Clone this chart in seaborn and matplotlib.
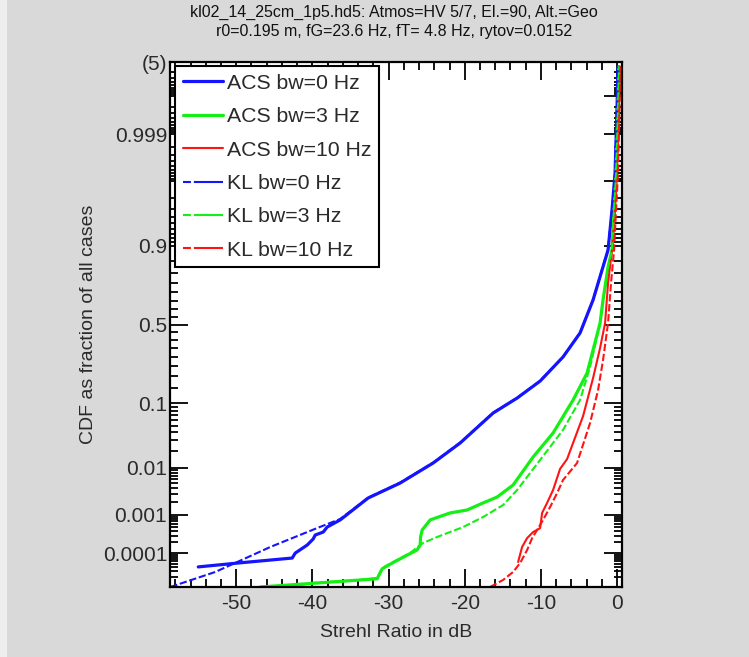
import math
from statistics import NormalDist

import numpy as np
import matplotlib
matplotlib.use("Agg")
import matplotlib.pyplot as plt
from matplotlib.lines import Line2D
from matplotlib.patches import Rectangle
from matplotlib.ticker import FixedLocator, FixedFormatter
import seaborn as sns

# ---- data: Strehl ratio (dB) vs cumulative fraction of cases ----
acs_bw0_db = [-54.99, -49.87, -42.65, -42.26, -40.68, -39.90, -39.63, -38.58, -38.06,
              -36.35, -32.68, -28.48, -24.15, -20.60, -16.27, -13.12, -10.10, -7.09,
              -4.86, -3.15, -1.97, -1.18, -0.66, -0.26, 0.0, 0.13]
acs_bw0_cdf = [4.1e-5, 5.3e-5, 7.4e-5, 1.02e-4, 1.7e-4, 2.46e-4, 3.13e-4, 3.73e-4, 5.0e-4,
               7.5e-4, 2.41e-3, 5.0e-3, 0.0122, 0.0271, 0.0752, 0.116, 0.179, 0.299,
               0.445, 0.655, 0.812, 0.887, 0.9686, 0.99307, 0.9998, 0.999986]

kl_bw0_db = [-58.66, -52.76, -49.87, -45.54, -39.37, -38.06, -36.35, -32.68, -28.48,
             -24.15, -20.60, -16.27, -13.12, -10.10, -7.09, -4.86, -3.15, -1.97, -1.18,
             -0.66, -0.26, 0.0, 0.13]
kl_bw0_cdf = [1.0e-5, 2.9e-5, 5.7e-5, 1.5e-4, 4.72e-4, 5.9e-4, 7.9e-4, 2.45e-3, 5.1e-3,
              0.0124, 0.0275, 0.0760, 0.117, 0.180, 0.300, 0.446, 0.656, 0.813, 0.888,
              0.9688, 0.99310, 0.9998, 0.999986]

acs_bw3_db = [-46.85, -31.50, -30.84, -29.40, -26.25, -25.85, -25.80, -25.59, -24.54,
              -21.92, -19.69, -17.59, -15.75, -13.65, -11.02, -8.40, -5.77, -3.94,
              -3.15, -2.23, -1.84, -1.18, -0.66, -0.39, -0.13, 0.13, 0.26]
acs_bw3_cdf = [1.0e-5, 1.8e-5, 3.6e-5, 5.5e-5, 1.25e-4, 1.7e-4, 2.78e-4, 4.2e-4, 7.5e-4,
               1.10e-3, 1.29e-3, 1.87e-3, 2.53e-3, 4.55e-3, 0.01567, 0.0390, 0.110, 0.215,
               0.339, 0.510, 0.655, 0.825, 0.887, 0.969, 0.993, 0.9998, 0.999986]

kl_bw3_db = [-46.85, -41.60, -39.90, -33.73, -31.50, -30.84, -29.40, -27.17, -25.85,
             -25.46, -23.62, -20.21, -17.59, -14.96, -13.12, -10.10, -7.09, -4.86,
             -3.54, -2.23, -1.84, -1.18, -0.66, -0.39, -0.13, 0.13, 0.26]
kl_bw3_cdf = [1.0e-5, 1.16e-5, 1.34e-5, 1.66e-5, 1.91e-5, 3.8e-5, 5.7e-5, 1.03e-4, 1.70e-4,
              1.93e-4, 2.78e-4, 5.0e-4, 8.8e-4, 1.68e-3, 3.58e-3, 0.01387, 0.0434, 0.110,
              0.245, 0.505, 0.652, 0.823, 0.886, 0.969, 0.993, 0.9998, 0.999986]

acs_bw10_db = [-12.99, -12.47, -11.81, -11.02, -10.10, -9.84, -9.19, -8.40, -7.48, -6.56,
               -4.46, -3.15, -2.23, -1.57, -1.18, -0.66, -0.26, 0.0, 0.26, 0.39]
acs_bw10_cdf = [5.7e-5, 1.5e-4, 2.6e-4, 3.73e-4, 4.7e-4, 1.10e-3, 1.87e-3, 3.58e-3, 9.5e-3,
                0.0144, 0.0684, 0.192, 0.351, 0.51, 0.75, 0.887, 0.969, 0.993, 0.9998,
                0.999986]

kl_bw10_db = [-16.67, -14.96, -13.65, -12.73, -11.81, -11.15, -10.50, -9.71, -8.79, -7.87,
              -7.09, -5.25, -3.54, -2.49, -1.84, -1.18, -0.79, -0.39, -0.13, 0.13, 0.33,
              0.46]
kl_bw10_cdf = [1.0e-5, 1.66e-5, 2.9e-5, 5.3e-5, 1.24e-4, 2.6e-4, 4.2e-4, 7.5e-4, 1.51e-3,
               3.09e-3, 5.77e-3, 0.0122, 0.0548, 0.1436, 0.282, 0.51, 0.75, 0.887, 0.969,
               0.993, 0.9998, 0.999986]

# y-axis tick values (probability scale) and their labels
y_major = [1e-4, 1e-3, 1e-2, 0.1, 0.5, 0.9, 0.999, 0.99999]
y_major_labels = ["0.0001", "0.001", "0.01", "0.1", "0.5", "0.9", "0.999", "(5)"]
x_major = [-50, -40, -30, -20, -10, 0]

title_text = ("kl02_14_25cm_1p5.hd5: Atmos=HV 5/7, El.=90, Alt.=Geo\n"
              "r0=0.195 m, fG=23.6 Hz, fT= 4.8 Hz, rytov=0.0152")

# ---- normal-probability axis ----
_nd = NormalDist()
_inv = np.vectorize(_nd.inv_cdf, otypes=[float])
_erf = np.vectorize(math.erf, otypes=[float])


def probit(p):
    p = np.clip(np.asarray(p, dtype=float), 1e-12, 1 - 1e-12)
    return _inv(p)


def inv_probit(z):
    z = np.asarray(z, dtype=float)
    return 0.5 * (1.0 + _erf(z / math.sqrt(2.0)))


sns.set_theme(style="white")
plt.rcParams["font.family"] = ["Liberation Sans", "DejaVu Sans"]
plt.rcParams["axes.unicode_minus"] = False

fig = plt.figure(figsize=(7.49, 6.57), dpi=100, facecolor="#d9d9d9")
fig.patches.append(Rectangle((0, 0), 7 / 749, 1, transform=fig.transFigure,
                             facecolor="#eeeeee", edgecolor="none", zorder=0))
ax = fig.add_axes([170 / 749, 1 - 587 / 657, 452 / 749, 525 / 657])
ax.set_facecolor("white")
ax.set_yscale("function", functions=(probit, inv_probit))

kl_dash = (0, (3.5, 1.3))
kl_dash_key = (0, (3.8, 1.4, 14.4, 1.4))
series = [
    (acs_bw0_db, acs_bw0_cdf, "#1414ff", 2.3, "-", "ACS bw=0 Hz"),
    (acs_bw3_db, acs_bw3_cdf, "#14f014", 2.3, "-", "ACS bw=3 Hz"),
    (acs_bw10_db, acs_bw10_cdf, "#ff1414", 1.5, "-", "ACS bw=10 Hz"),
    (kl_bw0_db, kl_bw0_cdf, "#1414ff", 1.5, kl_dash, "KL bw=0 Hz"),
    (kl_bw3_db, kl_bw3_cdf, "#14f014", 1.5, kl_dash, "KL bw=3 Hz"),
    (kl_bw10_db, kl_bw10_cdf, "#ff1414", 1.5, kl_dash, "KL bw=10 Hz"),
]
handles = []
for xs, ps, col, lw, ls, lab in series:
    sns.lineplot(x=xs, y=ps, ax=ax, color=col, linewidth=lw, linestyle=ls,
                 sort=False, estimator=None, label=lab,
                 solid_joinstyle="round", dash_joinstyle="round")
    handles.append(Line2D([], [], color=col, linewidth=lw,
                          linestyle=("-" if ls == "-" else kl_dash_key)))

ax.set_xlim(-58.7, 0.65)
ax.set_ylim(1e-5, 1 - 1e-5)

# ticks
ax.xaxis.set_major_locator(FixedLocator(x_major))
ax.xaxis.set_minor_locator(FixedLocator(np.arange(-58, 1, 2)))
y_major_all = y_major + [0.99, 0.9999]
ax.yaxis.set_major_locator(FixedLocator(y_major_all))
ax.yaxis.set_major_formatter(FixedFormatter(y_major_labels + ["", ""]))
minor = []
for k in range(2, 6):
    for m in range(2, 10):
        minor.append(m * 10.0 ** -k)
        minor.append(1 - m * 10.0 ** -k)
minor += [round(v, 2) for v in np.arange(0.15, 0.86, 0.05) if abs(v - 0.5) > 1e-6]
ax.yaxis.set_minor_locator(FixedLocator(sorted(minor)))

ax.tick_params(which="both", direction="in", top=True, right=True, bottom=True,
               left=True, color="black", width=1.3)
ax.tick_params(which="major", length=13, labelsize=15, labelcolor="#2a2a2a", pad=5)
ax.tick_params(which="minor", length=6)
ax.tick_params(axis="y", which="major", pad=2)

for s in ax.spines.values():
    s.set_color("black")
    s.set_linewidth(1.6)

ax.set_xlabel("Strehl Ratio in dB", fontsize=14, color="#2a2a2a", labelpad=8)
ax.set_ylabel("CDF as fraction of all cases", fontsize=14, color="#2a2a2a", labelpad=4)
fig.text(394 / 749, 1 - 5 / 657, title_text, ha="center", va="top", fontsize=11.5,
         color="#111111", linespacing=1.35)

leg = ax.legend(handles=handles, labels=[s[-1] for s in series],
                loc="upper left", bbox_to_anchor=(0.012, 0.992), fontsize=15.3,
                frameon=True, fancybox=False, framealpha=1, edgecolor="black",
                handlelength=1.9, handletextpad=0.2, labelspacing=0.68,
                borderpad=0.35, borderaxespad=0.0)
leg.get_frame().set_linewidth(1.5)
for t in leg.get_texts():
    t.set_color("#2a2a2a")

fig.savefig("out.png", dpi=100, facecolor=fig.get_facecolor())
